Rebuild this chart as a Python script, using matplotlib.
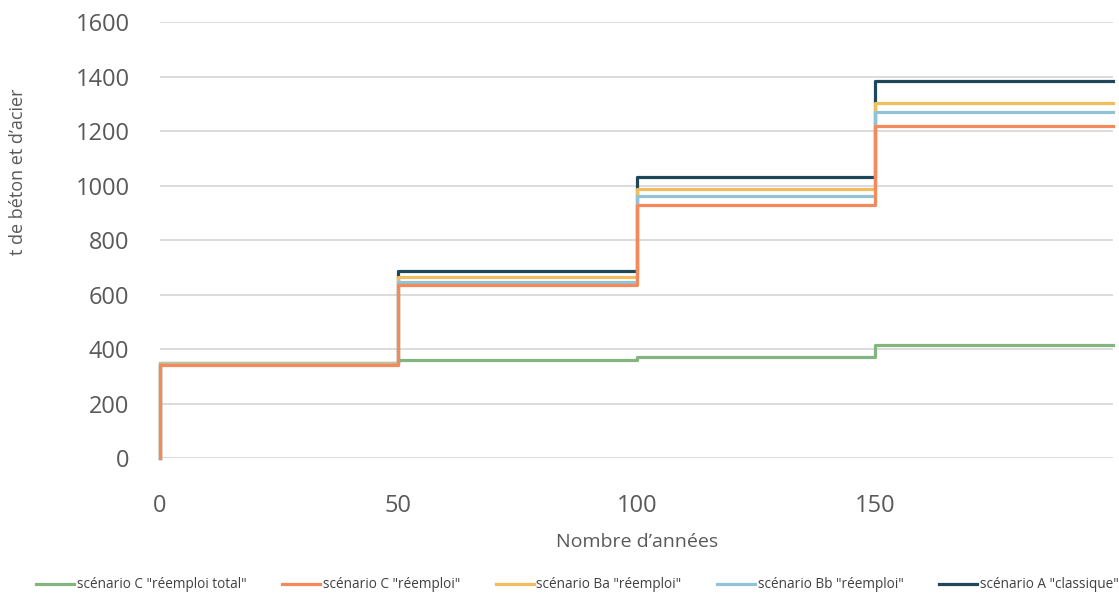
import matplotlib.pyplot as plt

plt.rcParams['font.family'] = ['Open Sans', 'DejaVu Sans']

# Données (t de béton et d'acier), paliers tous les 50 ans
annees = [0, 0, 50, 100, 150, 200]
scenario_c_total = [0, 345, 360, 372, 415, 415]
scenario_c = [0, 342, 636, 930, 1220, 1220]
scenario_ba = [0, 348, 664, 987, 1302, 1302]
scenario_bb = [0, 346, 647, 961, 1270, 1270]
scenario_a = [0, 350, 686, 1031, 1382, 1382]

labels = ['scénario C "réemploi total"', 'scénario C "réemploi"',
          'scénario Ba "réemploi"', 'scénario Bb "réemploi"',
          'scénario A "classique"']
couleurs = ['#82b57f', '#f4895b', '#f1bd5e', '#92c2d6', '#1e4859']

fig = plt.figure(figsize=(11.19, 5.96), dpi=100)
ax = fig.add_axes([0.143, 0.2315, 0.852, 0.7315])

series = [scenario_c_total, scenario_c, scenario_ba, scenario_bb, scenario_a]
zorders = [3, 7, 5, 6, 4]
handles = []
for y, lab, c, z in zip(series, labels, couleurs, zorders):
    (ln,) = ax.step(annees, y, where='post', color=c, lw=2.3, label=lab,
                    zorder=z, clip_on=False)
    handles.append(ln)

ax.set_xlim(0, 200)
ax.set_ylim(0, 1600)
ax.set_yticks(range(0, 1601, 200))
ax.set_xticks([0, 50, 100, 150])
ax.grid(axis='y', color='#d9d9d9', lw=1.3)
ax.set_axisbelow(True)
for s in ax.spines.values():
    s.set_visible(False)
ax.tick_params(axis='both', length=0, labelsize=17, labelcolor='#595959')
ax.tick_params(axis='x', pad=26)
ax.tick_params(axis='y', pad=22)

ax.set_xlabel("Nombre d’années", fontsize=14, color='#595959', labelpad=11)
fig.text(18 / 1119, 1 - 172 / 596, "t de béton et d’acier", rotation=90,
         ha='center', va='center', fontsize=13, color='#595959')

fig.legend(handles=handles, loc='center', bbox_to_anchor=(0.516, 1 - 585 / 596),
           ncol=5, frameon=False, fontsize=9.8, handlelength=2.8,
           handletextpad=0.2, columnspacing=2.6, labelcolor='#404040')

fig.savefig('out.png', dpi=100, facecolor='white')
